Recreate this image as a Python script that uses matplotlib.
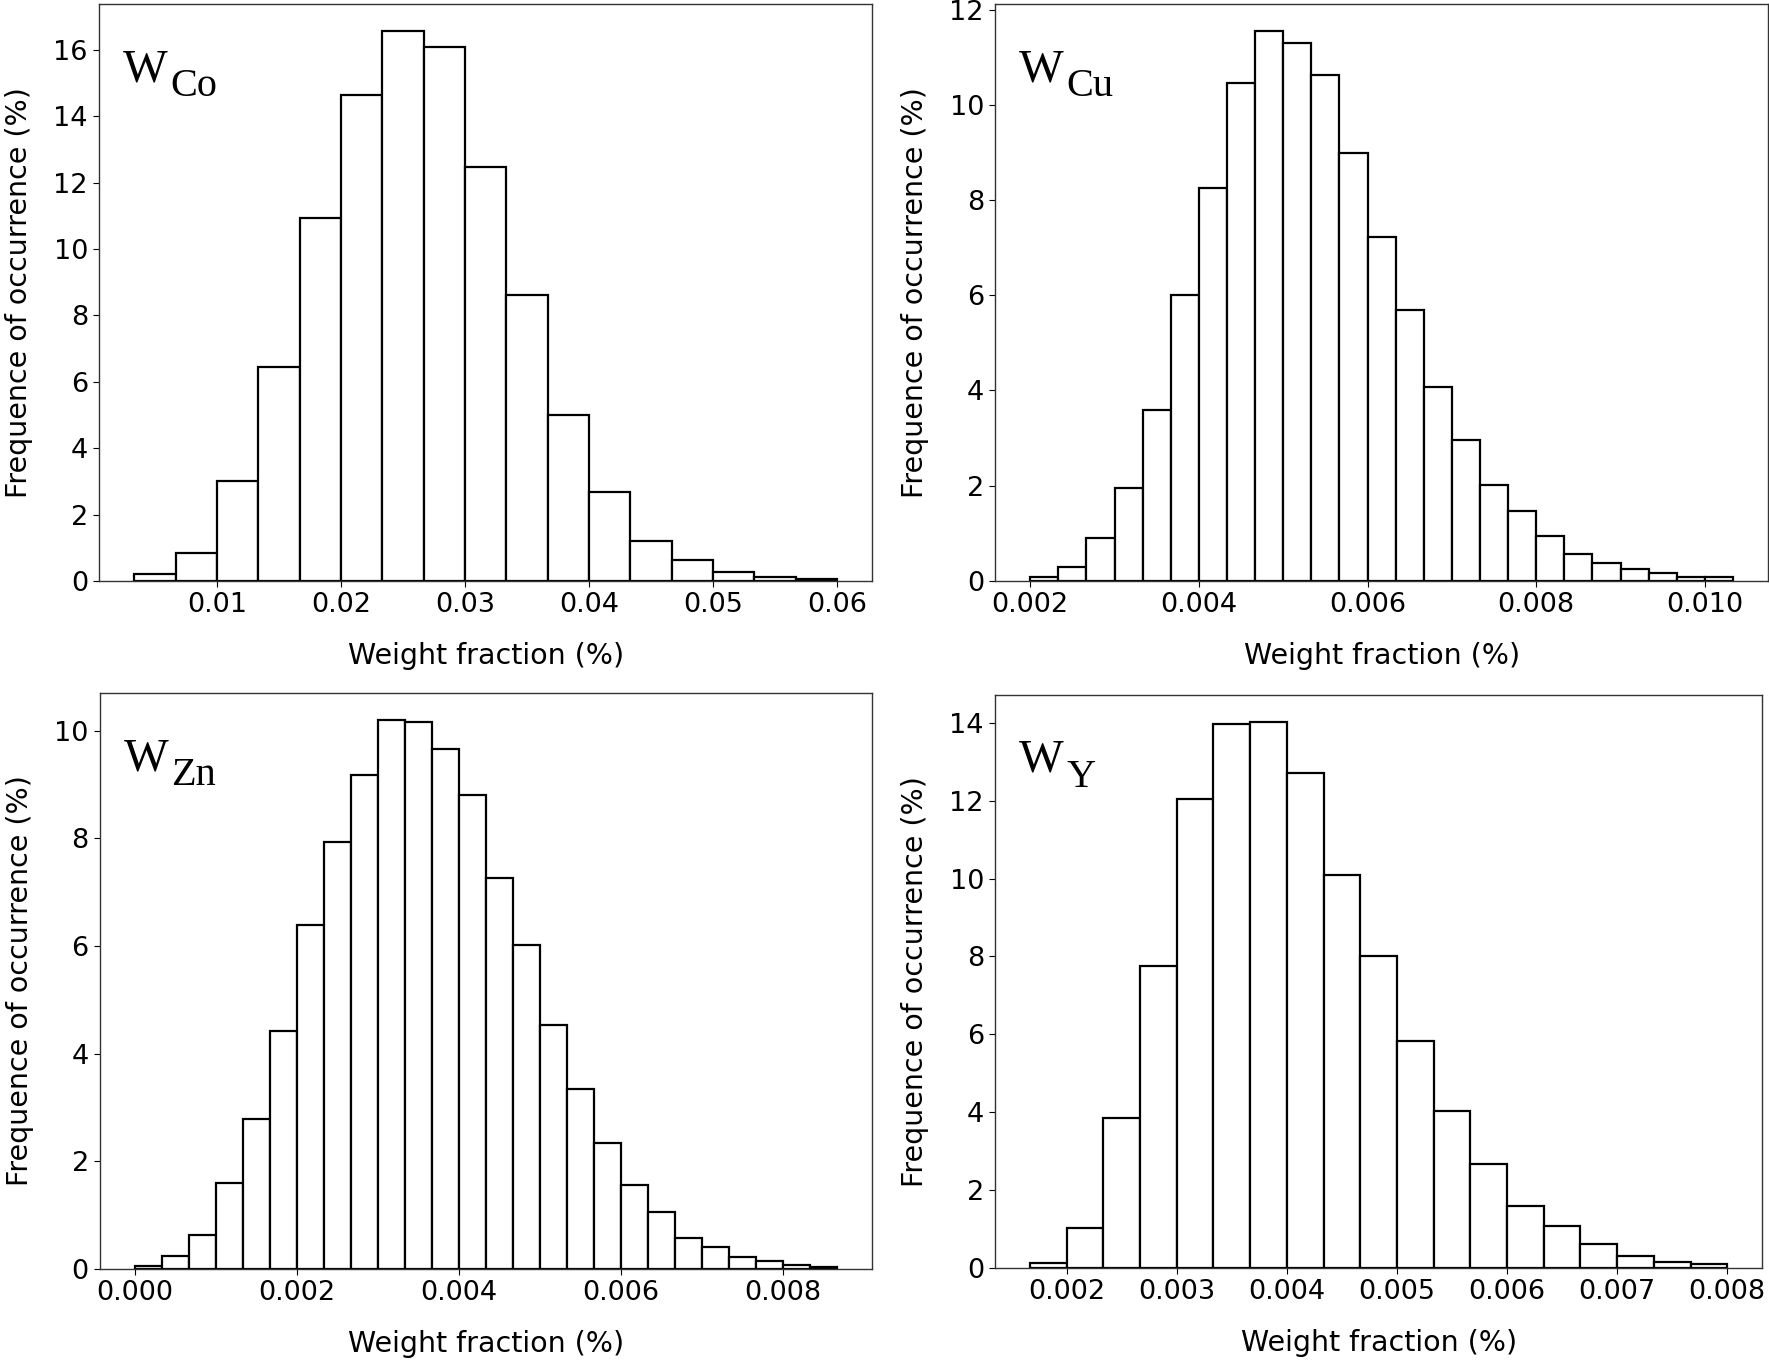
import numpy as np
import matplotlib
matplotlib.use("Agg")
import matplotlib.pyplot as plt
import matplotlib.transforms as mtransforms

# bin start, bin width and frequency (%) of each histogram
co_start = 1 / 300
co_width = 1 / 300
co_freq = [0.22, 0.85, 3.01, 6.45, 10.94, 14.63, 16.56, 16.1, 12.46, 8.63,
           5.0, 2.67, 1.22, 0.63, 0.26, 0.13, 0.05]

cu_start = 0.002
cu_width = 1 / 3000
cu_freq = [0.08, 0.29, 0.91, 1.95, 3.59, 6.0, 8.26, 10.45, 11.54, 11.3,
           10.63, 8.98, 7.22, 5.69, 4.07, 2.97, 2.02, 1.46, 0.94, 0.56,
           0.37, 0.26, 0.16, 0.08, 0.08]

zn_start = 0.0
zn_width = 1 / 3000
zn_freq = [0.06, 0.25, 0.63, 1.6, 2.79, 4.43, 6.39, 7.94, 9.18, 10.19,
           10.16, 9.66, 8.81, 7.26, 6.02, 4.53, 3.35, 2.35, 1.57, 1.05,
           0.57, 0.40, 0.23, 0.14, 0.08, 0.04]

y_start = 0.005 / 3
y_width = 1 / 3000
y_freq = [0.14, 1.03, 3.86, 7.76, 12.04, 13.97, 14.01, 12.7, 10.08, 8.0,
          5.83, 4.02, 2.68, 1.59, 1.08, 0.61, 0.32, 0.16, 0.11]

co_ticks = [0.01, 0.02, 0.03, 0.04, 0.05, 0.06]
cu_ticks = [0.002, 0.004, 0.006, 0.008, 0.010]
zn_ticks = [0.000, 0.002, 0.004, 0.006, 0.008]
y_ticks = [0.002, 0.003, 0.004, 0.005, 0.006, 0.007, 0.008]

panels = [
    ("Co", co_start, co_width, co_freq, co_ticks, "{:.2f}", [0.0560, 0.5728, 0.4370, 0.4243]),
    ("Cu", cu_start, cu_width, cu_freq, cu_ticks, "{:.3f}", [0.5625, 0.5728, 0.4370, 0.4243]),
    ("Zn", zn_start, zn_width, zn_freq, zn_ticks, "{:.3f}", [0.0565, 0.0669, 0.4365, 0.4235]),
    ("Y", y_start, y_width, y_freq, y_ticks, "{:.3f}", [0.5625, 0.0676, 0.4336, 0.4213]),
]

fig = plt.figure(figsize=(17.69, 13.6), dpi=100)

for name, start, width, freq, ticks, fmt, rect in panels:
    ax = fig.add_axes(rect)
    lefts = start + width * np.arange(len(freq))
    ax.bar(lefts, freq, width=width, align="edge", color="white",
           edgecolor="black", linewidth=1.6)
    ax.set_xticks(ticks)
    ax.set_xticklabels([fmt.format(t) for t in ticks])
    ax.tick_params(labelsize=19.5, length=4.5)
    ax.set_xlabel("Weight fraction (%)", fontsize=20.5, labelpad=17)
    ax.set_ylabel("Frequence of occurrence (%)", fontsize=20.5, labelpad=15)
    for sp in ax.spines.values():
        sp.set_linewidth(1.0)
        sp.set_color("#333333")

    ax.text(0.031, 0.866, "W", transform=ax.transAxes, fontsize=34,
            family="Liberation Serif", va="baseline", ha="left")
    off = mtransforms.ScaledTranslation(0.475, -0.15, fig.dpi_scale_trans)
    ax.text(0.031, 0.866, name, transform=ax.transAxes + off, fontsize=29,
            family="Liberation Serif", va="baseline", ha="left")

fig.savefig("out.png", dpi=100)
